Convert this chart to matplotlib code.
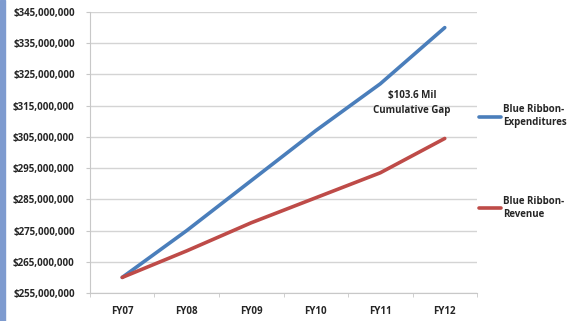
import matplotlib.pyplot as plt
from matplotlib.ticker import FuncFormatter
from matplotlib.patches import Rectangle

years = ['FY07', 'FY08', 'FY09', 'FY10', 'FY11', 'FY12']
expenditures = [260.0, 275.0, 291.0, 307.0, 322.0, 340.0]  # $ millions
revenue = [260.0, 268.5, 277.5, 285.5, 293.5, 304.5]
y_ticks = [255, 265, 275, 285, 295, 305, 315, 325, 335, 345]

plt.rcParams['font.family'] = ['Open Sans', 'DejaVu Sans']

fig = plt.figure(figsize=(5.71, 3.21), dpi=100)
ax = fig.add_axes([0.1576, 0.0872, 0.8354 - 0.1576, 0.9626 - 0.0872])

x = range(len(years))
ax.plot(x, expenditures, color='#4a7ebb', lw=2.6, solid_capstyle='round',
        label='Blue Ribbon-\nExpenditures', zorder=3)
ax.plot(x, revenue, color='#be4b48', lw=2.6, solid_capstyle='round',
        label='Blue Ribbon-\nRevenue', zorder=3)

ax.set_xlim(-0.5, len(years) - 0.5)
ax.set_ylim(255, 345)
ax.set_yticks(y_ticks)
ax.yaxis.set_major_formatter(FuncFormatter(lambda v, p: f'${v * 1e6:,.0f}'))
ax.set_xticks(list(x))
ax.set_xticklabels(years)
ax.set_xticks([i - 0.5 for i in range(len(years) + 1)], minor=True)

ax.grid(axis='y', color='#d4d4d4', lw=1.0)
ax.set_axisbelow(True)
for s in ['top', 'right']:
    ax.spines[s].set_visible(False)
for s in ['left', 'bottom']:
    ax.spines[s].set_color('#c8c8c8')
ax.tick_params(axis='y', length=3, color='#c8c8c8', labelsize=7, pad=8)
ax.tick_params(axis='x', which='major', length=0, labelsize=7, pad=9)
ax.tick_params(axis='x', which='minor', length=3, color='#c8c8c8')
for lbl in ax.get_yticklabels() + ax.get_xticklabels():
    lbl.set_fontweight('bold')
    lbl.set_color('#262626')

ax.text(4.49, 316.0, '$103.6 Mil\nCumulative Gap', ha='center', va='center',
        fontsize=7, fontweight='bold', color='#262626', linespacing=1.5)

leg = ax.legend(loc='upper left', bbox_to_anchor=(0.995, 0.685), frameon=False,
                fontsize=7, handlelength=2.3, handletextpad=0.2,
                labelspacing=7.0, borderaxespad=0)
for t in leg.get_texts():
    t.set_fontweight('bold')
    t.set_color('#262626')

# slide edge on the far left
fig.patches.append(Rectangle((0, 0), 0.009, 1, transform=fig.transFigure,
                             color='#7e9bcf', zorder=0))

fig.savefig('out.png', dpi=100, facecolor='white')
